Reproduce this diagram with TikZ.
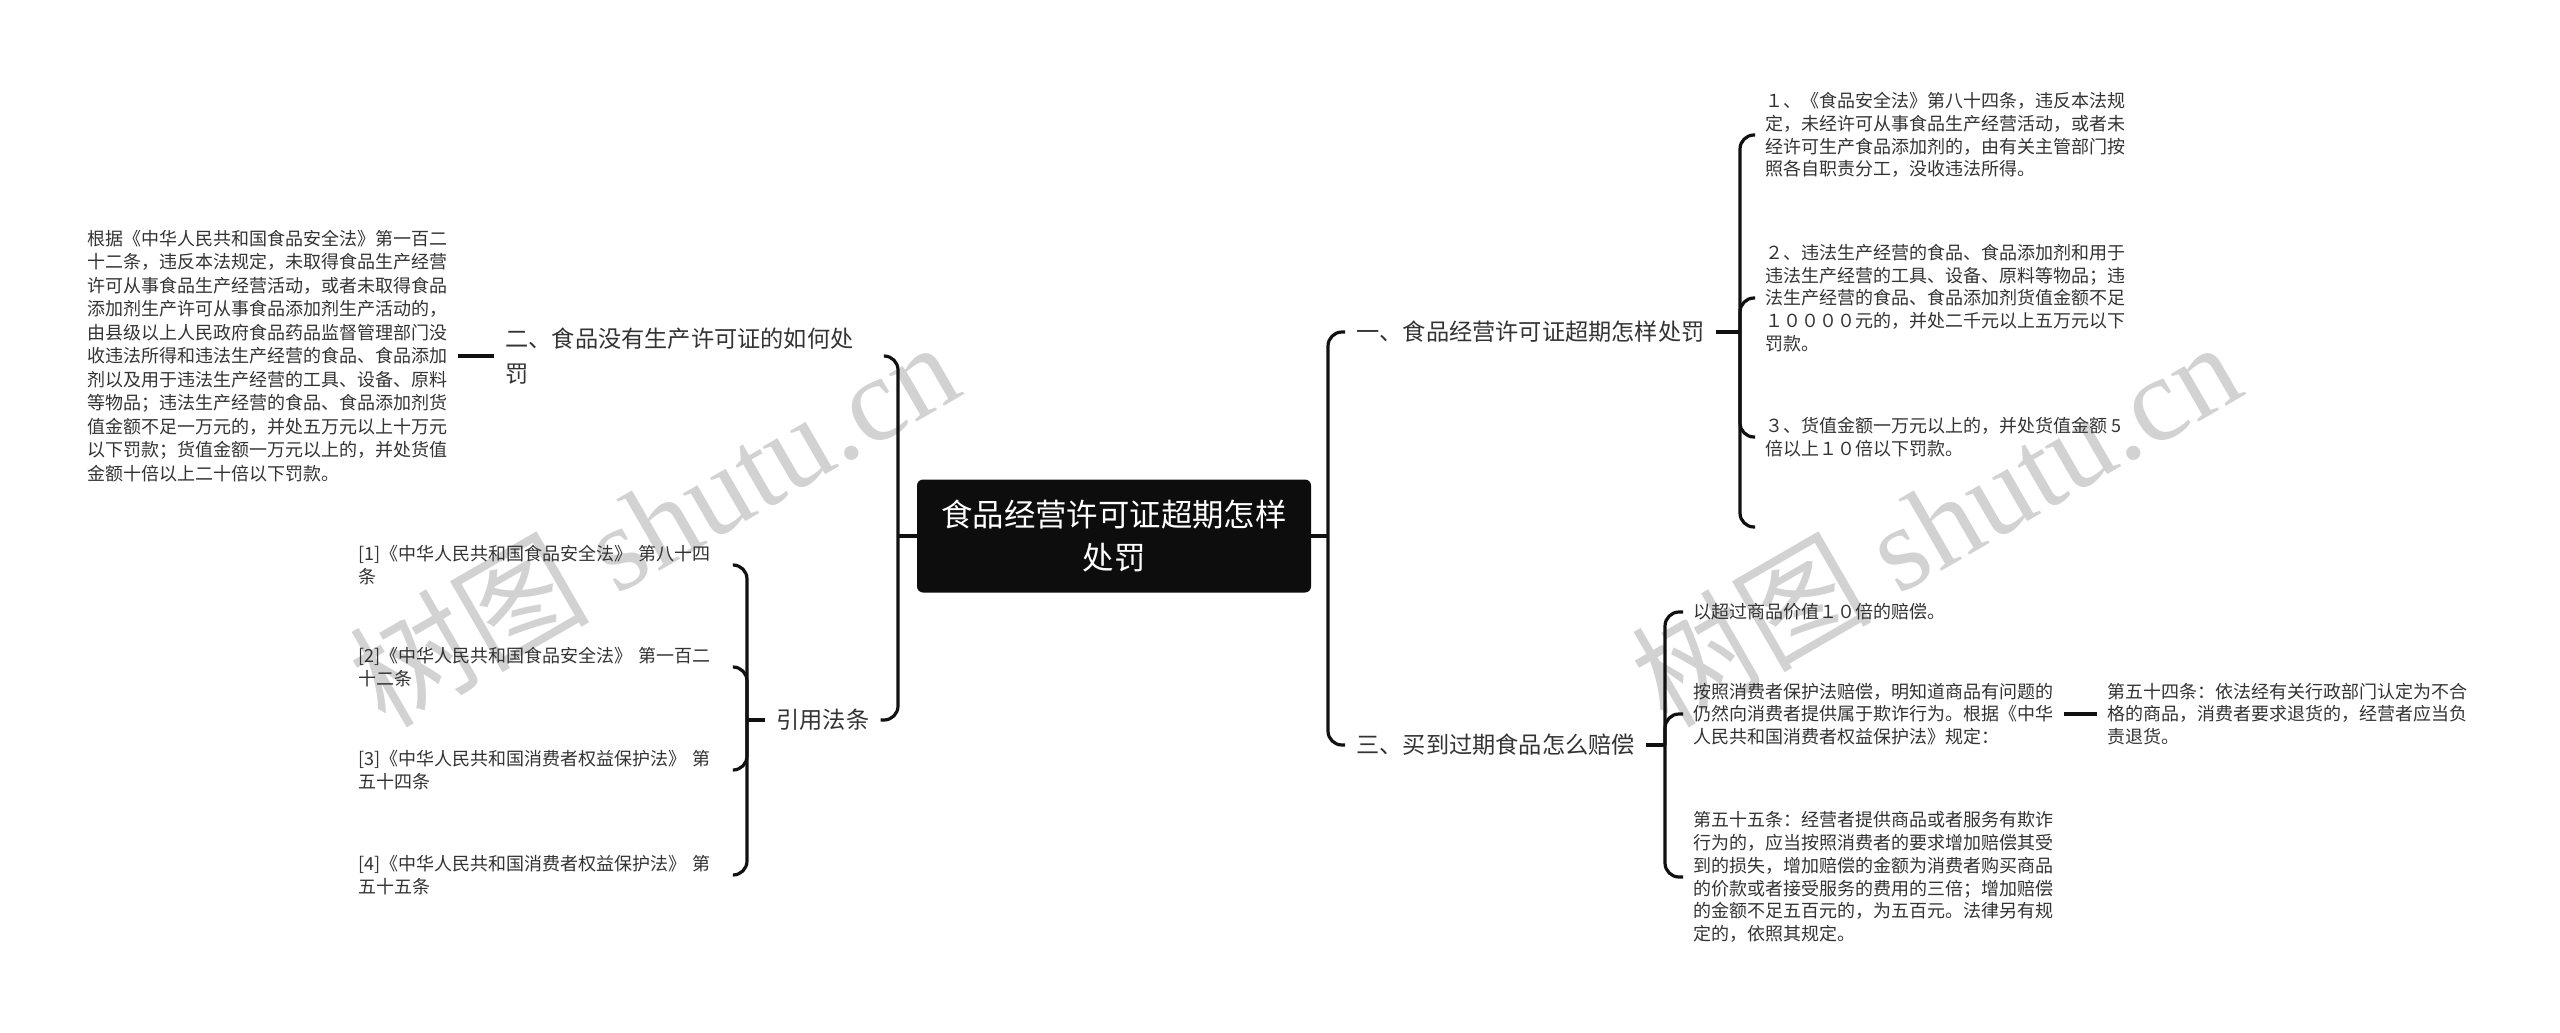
\documentclass[tikz,border=0pt]{standalone}
\usepackage{fontspec}
\setmainfont{Noto Sans CJK SC}
\newfontfamily\wmserif{Liberation Serif}
\usepackage{tikz}
\usetikzlibrary{positioning}
\definecolor{inkline}{HTML}{111111}
\definecolor{inktext}{HTML}{333333}
\definecolor{rootfill}{HTML}{0D0D0D}
\definecolor{wmgray}{HTML}{D2D2D2}

\begin{document}
\begin{tikzpicture}[
  x=0.5pt, y=-0.5pt,
  root/.style={fill=rootfill, rounded corners=3pt, minimum width=197pt, minimum height=56.5pt, align=center, text=white, font=\fontsize{15.7}{21.5}\selectfont},
  sec/.style={anchor=west, inner xsep=5.5pt, inner ysep=2pt, align=left, text=inktext, font=\fontsize{11.6}{17.5}\selectfont},
  leaf/.style={anchor=west, inner xsep=5pt, inner ysep=2pt, align=left, text=inktext, font=\fontsize{9}{11.4}\selectfont},
  link/.style={draw=inkline, line width=1.6pt, rounded corners=7pt},
  wmark/.style={rotate=30, text=wmgray, font=\fontsize{60}{60}\selectfont},
]
\useasboundingbox (0,0) rectangle (2560,1033);

% watermarks
\node[wmark] (wm-left) at (653,522) {树图 {\wmserif shutu.cn}};
\node[wmark] (wm-right) at (1935,522) {树图 {\wmserif shutu.cn}};

% centre
\node[root] (root) at (1114,536) {食品经营许可证超期怎样\\处罚};

% sections
\node[sec] (sec-one) at (1345,332) {一、食品经营许可证超期怎样处罚};
\node[sec] (sec-three) at (1345,745) {三、买到过期食品怎么赔偿};
\node[sec, text width=183.5pt] (sec-two) at (494,356) {二、食品没有生产许可证的如何处\\罚};
\node[sec] (sec-refs) at (765,720) {引用法条};

% section one leaves
\node[leaf] (one-a) at (1755,135) {１、《食品安全法》第八十四条，违反本法规\\定，未经许可从事食品生产经营活动，或者未\\经许可生产食品添加剂的，由有关主管部门按\\照各自职责分工，没收违法所得。};
\node[leaf] (one-b) at (1755,298) {２、违法生产经营的食品、食品添加剂和用于\\违法生产经营的工具、设备、原料等物品；违\\法生产经营的食品、食品添加剂货值金额不足\\１００００元的，并处二千元以上五万元以下\\罚款。};
\node[leaf] (one-c) at (1755,437) {３、货值金额一万元以上的，并处货值金额 5\\倍以上１０倍以下罚款。};
\coordinate (one-d) at (1755,527);

% section three leaves
\node[leaf] (three-a) at (1683,612) {以超过商品价值１０倍的赔偿。};
\node[leaf] (three-b) at (1683,714) {按照消费者保护法赔偿，明知道商品有问题的\\仍然向消费者提供属于欺诈行为。根据《中华\\人民共和国消费者权益保护法》规定：};
\node[leaf] (three-c) at (1683,877) {第五十五条：经营者提供商品或者服务有欺诈\\行为的，应当按照消费者的要求增加赔偿其受\\到的损失，增加赔偿的金额为消费者购买商品\\的价款或者接受服务的费用的三倍；增加赔偿\\的金额不足五百元的，为五百元。法律另有规\\定的，依照其规定。};
\node[leaf] (art-54) at (2097,714) {第五十四条：依法经有关行政部门认定为不合\\格的商品，消费者要求退货的，经营者应当负\\责退货。};

% section two leaf
\node[leaf, font=\fontsize{9}{11.75}\selectfont] (two-a) at (77,356) {根据《中华人民共和国食品安全法》第一百二\\十二条，违反本法规定，未取得食品生产经营\\许可从事食品生产经营活动，或者未取得食品\\添加剂生产许可从事食品添加剂生产活动的，\\由县级以上人民政府食品药品监督管理部门没\\收违法所得和违法生产经营的食品、食品添加\\剂以及用于违法生产经营的工具、设备、原料\\等物品；违法生产经营的食品、食品添加剂货\\值金额不足一万元的，并处五万元以上十万元\\以下罚款；货值金额一万元以上的，并处货值\\金额十倍以上二十倍以下罚款。};

% references
\node[leaf, text width=182pt, font=\fontsize{9}{11.65}\selectfont] (ref-1) at (348,565) {[1]《中华人民共和国食品安全法》 第八十四\\条};
\node[leaf, text width=182pt, font=\fontsize{9}{11.65}\selectfont] (ref-2) at (348,667) {[2]《中华人民共和国食品安全法》 第一百二\\十二条};
\node[leaf, text width=182pt, font=\fontsize{9}{11.65}\selectfont] (ref-3) at (348,770) {[3]《中华人民共和国消费者权益保护法》 第\\五十四条};
\node[leaf, text width=182pt, font=\fontsize{9}{11.65}\selectfont] (ref-4) at (348,875) {[4]《中华人民共和国消费者权益保护法》 第\\五十五条};

% junctions
\coordinate (join-left) at (898,536);
\coordinate (join-right) at (1328,536);
\coordinate (join-one) at (1740,332);
\coordinate (join-three) at (1665,745);
\coordinate (join-refs) at (747,720);

% centre to sections
\draw[link] (root.west) -- (join-left);
\draw[link] (join-left) |- (sec-two.east);
\draw[link] (join-left) |- (sec-refs.east);
\draw[link] (root.east) -- (join-right);
\draw[link] (join-right) |- (sec-one.west);
\draw[link] (join-right) |- (sec-three.west);

% section one
\draw[link] (sec-one.east) -- (join-one);
\draw[link] (join-one) |- (one-a.west);
\draw[link] (join-one) |- (one-b.west);
\draw[link] (join-one) |- (one-c.west);
\draw[link] (join-one) |- (one-d);

% section three
\draw[link] (sec-three.east) -- (join-three);
\draw[link] (join-three) |- (three-a.west);
\draw[link] (join-three) |- (three-b.west);
\draw[link] (join-three) |- (three-c.west);
\draw[link] (three-b.east) -- (art-54.west);

% section two
\draw[link] (sec-two.west) -- (two-a.east);

% references
\draw[link] (sec-refs.west) -- (join-refs);
\draw[link] (join-refs) |- (ref-1.east);
\draw[link] (join-refs) |- (ref-2.east);
\draw[link] (join-refs) |- (ref-3.east);
\draw[link] (join-refs) |- (ref-4.east);

\end{tikzpicture}
\end{document}
